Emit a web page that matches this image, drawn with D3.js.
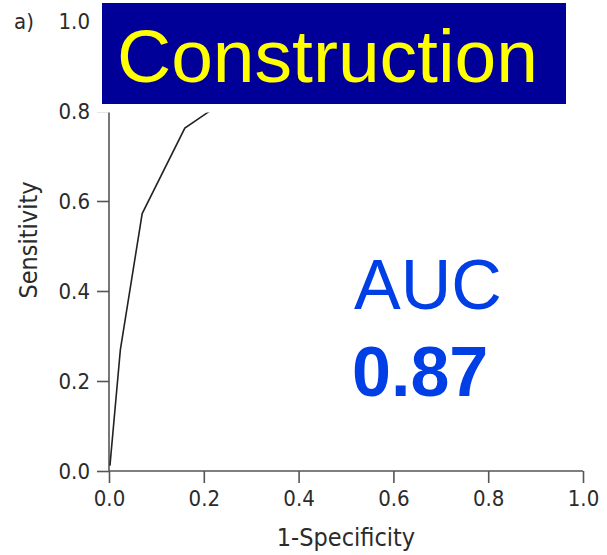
<!DOCTYPE html>
<html>
<head>
<meta charset="utf-8">
<script src="https://cdn.jsdelivr.net/npm/d3@7"></script>
<style>
body { margin: 0; background: #fff; }
svg { display: block; }
.axis text { font-family: "DejaVu Sans Condensed", "DejaVu Sans", sans-serif; font-size: 22px; fill: #2b2b2b; }
.axis path, .axis line { stroke: #555; stroke-width: 1.6; }
</style>
</head>
<body>
<svg width="607" height="555"></svg>
<script>
// ROC curve (the rest is hidden under the title box)
var fpr = [0.002, 0.024, 0.070, 0.160, 0.207, 0.30]
var tpr = [0.012, 0.270, 0.572, 0.762, 0.796, 0.855]
var ticks = [0, 0.2, 0.4, 0.6, 0.8, 1.0]
var title = "Construction"
var aucLabel = "AUC"
var aucValue = "0.87"

var svg = d3.select("svg")
var x = d3.scaleLinear().domain([0, 1]).range([109, 583])
var y = d3.scaleLinear().domain([0, 1]).range([471, 21])

var xAxis = svg.append("g")
    .attr("class", "axis")
    .attr("transform", "translate(0," + y(0) + ")")
    .call(d3.axisBottom(x).tickValues(ticks).tickFormat(d3.format(".1f")).tickSize(12).tickPadding(7))
var yAxis = svg.append("g")
    .attr("class", "axis")
    .attr("transform", "translate(" + x(0) + ",0)")
    .call(d3.axisLeft(y).tickValues(ticks).tickFormat(d3.format(".1f")).tickSize(12).tickPadding(7))
svg.selectAll(".axis .domain").attr("d", function() {
    // plain lines, no end caps
    return this.parentNode === xAxis.node()
        ? "M" + x(0) + ",0H" + x(1)
        : "M0," + y(0) + "V" + y(1)
})

// axis titles
svg.append("text")
    .attr("x", (x(0) + x(1)) / 2).attr("y", 546)
    .attr("text-anchor", "middle")
    .style("font-family", "'DejaVu Sans Condensed', 'DejaVu Sans', sans-serif")
    .style("font-size", "25px").style("fill", "#2b2b2b")
    .text("1-Specificity")
svg.append("text")
    .attr("transform", "translate(37," + 240 + ") rotate(-90)")
    .attr("text-anchor", "middle")
    .style("font-family", "'DejaVu Sans Condensed', 'DejaVu Sans', sans-serif")
    .style("font-size", "25px").style("fill", "#2b2b2b")
    .text("Sensitivity")
svg.append("text")
    .attr("x", 14).attr("y", 29)
    .style("font-family", "'DejaVu Sans Condensed', 'DejaVu Sans', sans-serif")
    .style("font-size", "22px").style("fill", "#2b2b2b")
    .text("a)")

// the curve
var line = d3.line().x(function(d) { return x(d[0]) }).y(function(d) { return y(d[1]) })
svg.append("path")
    .datum(d3.zip(fpr, tpr))
    .attr("d", line)
    .attr("fill", "none")
    .attr("stroke", "#222")
    .attr("stroke-width", 1.6)

// white mask over the top of the plot, then the title box
svg.append("rect")
    .attr("x", 95).attr("y", 0)
    .attr("width", 480).attr("height", y(0.8) + 1.5)
    .attr("fill", "#fff")
svg.append("rect")
    .attr("x", 102).attr("y", 3)
    .attr("width", 464).attr("height", 101)
    .attr("fill", "#000099")
svg.append("text")
    .attr("x", 117).attr("y", 82)
    .style("font-family", "'Liberation Sans', Arial, sans-serif")
    .style("font-size", "75px").style("fill", "#ffff00")
    .text(title)

// AUC annotation
svg.append("text")
    .attr("x", 354).attr("y", 309)
    .style("font-family", "'Liberation Sans', Arial, sans-serif")
    .style("font-size", "70px").style("fill", "#003ee6")
    .text(aucLabel)
svg.append("text")
    .attr("x", 352).attr("y", 396)
    .style("font-family", "'Liberation Sans', Arial, sans-serif")
    .style("font-size", "70px").style("font-weight", "bold").style("fill", "#003ee6")
    .text(aucValue)
</script>
</body>
</html>
